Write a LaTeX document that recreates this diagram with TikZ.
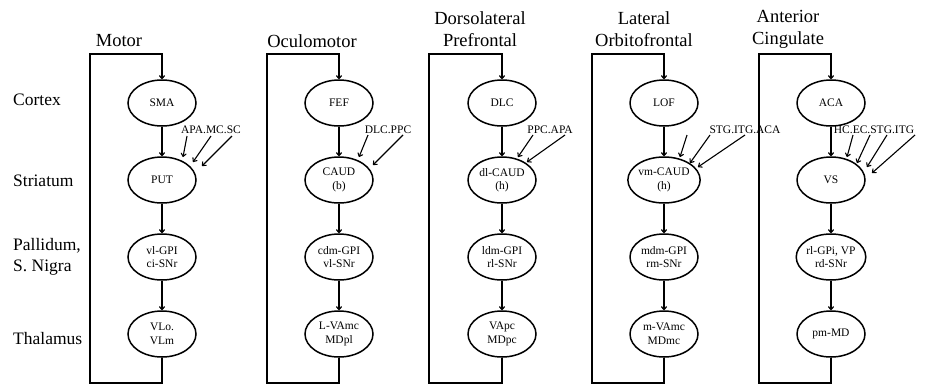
\documentclass[tikz,border=0pt]{standalone}
\usepackage{fontspec}
\setmainfont{Liberation Serif}
\usetikzlibrary{arrows.meta,shapes.geometric}
\begin{document}
\begin{tikzpicture}[x=1pt,y=-1pt,
 region/.style={ellipse, draw, line width=1.5pt, minimum width=68pt, minimum height=46pt, inner sep=0pt, align=center, font=\fontsize{11.5}{13.5}\selectfont},
 flow/.style={-{To[length=4pt,width=6pt]}, line width=1.2pt},
 inarrow/.style={-{To[length=4pt,width=6pt]}, line width=1.1pt},
 inlabel/.style={font=\fontsize{11.5}{13.5}\selectfont, inner sep=0pt},
 rowlabel/.style={font=\fontsize{17.5}{21}\selectfont, anchor=west, align=left, inner sep=0pt},
 header/.style={font=\fontsize{18.5}{22}\selectfont, align=center, inner sep=0pt}]
\useasboundingbox (0,0) rectangle (933,386);

% row labels
\node[rowlabel] (rcortex) at (13,100) {Cortex};
\node[rowlabel] (rstriatum) at (13,181) {Striatum};
\node[rowlabel] (rpallidum) at (13,257) {Pallidum,\\S. Nigra};
\node[rowlabel] (rthalamus) at (13,339) {Thalamus};

% ---------- Motor ----------
\node[header] (h1) at (119,41) {Motor};
\node[region] (a1) at (162,103) {SMA};
\node[region] (a2) at (162,180) {PUT};
\node[region] (a3) at (162,257) {vl-GPI\\ci-SNr};
\node[region] (a4) at (162,334) {VLo.\\VLm};
\draw[flow] (a1) -- (a2);
\draw[flow] (a2) -- (a3);
\draw[flow] (a3) -- (a4);
\coordinate (aL) at (90,383);
\coordinate (aT) at (162,54);
\draw[flow] (a4.south) |- (aL) |- (aT) -- (a1.north);
\node[inlabel] (ain) at (211,130) {APA.MC.SC};
\coordinate (ai1s) at (187,136); \coordinate (ai1e) at (183,157);
\coordinate (ai2s) at (211,136); \coordinate (ai2e) at (193,162);
\coordinate (ai3s) at (232,136); \coordinate (ai3e) at (202,166);
\draw[inarrow] (ai1s) -- (ai1e);
\draw[inarrow] (ai2s) -- (ai2e);
\draw[inarrow] (ai3s) -- (ai3e);

% ---------- Oculomotor ----------
\node[header] (h2) at (312,41) {Oculomotor};
\node[region] (b1) at (339,103) {FEF};
\node[region] (b2) at (339,180) {CAUD\\(b)};
\node[region] (b3) at (339,257) {cdm-GPI\\vl-SNr};
\node[region] (b4) at (339,334) {L-VAmc\\MDpl};
\draw[flow] (b1) -- (b2);
\draw[flow] (b2) -- (b3);
\draw[flow] (b3) -- (b4);
\coordinate (bL) at (267,383);
\coordinate (bT) at (339,54);
\draw[flow] (b4.south) |- (bL) |- (bT) -- (b1.north);
\node[inlabel] (bin) at (388,130) {DLC.PPC};
\coordinate (bi1s) at (368,135); \coordinate (bi1e) at (359,157);
\coordinate (bi2s) at (403,135); \coordinate (bi2e) at (373,165);
\draw[inarrow] (bi1s) -- (bi1e);
\draw[inarrow] (bi2s) -- (bi2e);

% ---------- Dorsolateral Prefrontal ----------
\node[header] (h3) at (480,29) {Dorsolateral\\Prefrontal};
\node[region] (c1) at (502,103) {DLC};
\node[region] (c2) at (502,180) {dl-CAUD\\(h)};
\node[region] (c3) at (502,257) {ldm-GPI\\rl-SNr};
\node[region] (c4) at (502,334) {VApc\\MDpc};
\draw[flow] (c1) -- (c2);
\draw[flow] (c2) -- (c3);
\draw[flow] (c3) -- (c4);
\coordinate (cL) at (429,383);
\coordinate (cT) at (502,54);
\draw[flow] (c4.south) |- (cL) |- (cT) -- (c1.north);
\node[inlabel] (cin) at (550,130) {PPC.APA};
\coordinate (ci1s) at (533,135); \coordinate (ci1e) at (518,157);
\coordinate (ci2s) at (565,135); \coordinate (ci2e) at (527,162);
\draw[inarrow] (ci1s) -- (ci1e);
\draw[inarrow] (ci2s) -- (ci2e);

% ---------- Lateral Orbitofrontal ----------
\node[header] (h4) at (644,29) {Lateral\\Orbitofrontal};
\node[region] (d1) at (664,103) {LOF};
\node[region] (d2) at (664,180) {vm-CAUD\\(h)};
\node[region] (d3) at (664,257) {mdm-GPI\\rm-SNr};
\node[region] (d4) at (664,334) {m-VAmc\\MDmc};
\draw[flow] (d1) -- (d2);
\draw[flow] (d2) -- (d3);
\draw[flow] (d3) -- (d4);
\coordinate (dL) at (592,383);
\coordinate (dT) at (664,54);
\draw[flow] (d4.south) |- (dL) |- (dT) -- (d1.north);
\node[inlabel] (din) at (745,130) {STG.ITG.ACA};
\coordinate (di1s) at (687,135); \coordinate (di1e) at (680,157);
\coordinate (di2s) at (710,135); \coordinate (di2e) at (690,163);
\coordinate (di3s) at (745,135); \coordinate (di3e) at (698,167);
\draw[inarrow] (di1s) -- (di1e);
\draw[inarrow] (di2s) -- (di2e);
\draw[inarrow] (di3s) -- (di3e);

% ---------- Anterior Cingulate ----------
\node[header] (h5) at (788,29) {Anterior\\Cingulate};
\node[region] (e1) at (831,103) {ACA};
\node[region] (e2) at (831,180) {VS};
\node[region] (e3) at (831,257) {rl-GPi, VP\\rd-SNr};
\node[region] (e4) at (831,334) {pm-MD};
\draw[flow] (e1) -- (e2);
\draw[flow] (e2) -- (e3);
\draw[flow] (e3) -- (e4);
\coordinate (eL) at (759,383);
\coordinate (eT) at (831,54);
\draw[flow] (e4.south) |- (eL) |- (eT) -- (e1.north);
\node[inlabel] (ein) at (874,130) {HC.EC.STG.ITG};
\coordinate (ei1s) at (853,135); \coordinate (ei1e) at (847,157);
\coordinate (ei2s) at (870,135); \coordinate (ei2e) at (857,163);
\coordinate (ei3s) at (887,135); \coordinate (ei3e) at (867,167);
\coordinate (ei4s) at (915,135); \coordinate (ei4e) at (872,173);
\draw[inarrow] (ei1s) -- (ei1e);
\draw[inarrow] (ei2s) -- (ei2e);
\draw[inarrow] (ei3s) -- (ei3e);
\draw[inarrow] (ei4s) -- (ei4e);
\end{tikzpicture}
\end{document}
